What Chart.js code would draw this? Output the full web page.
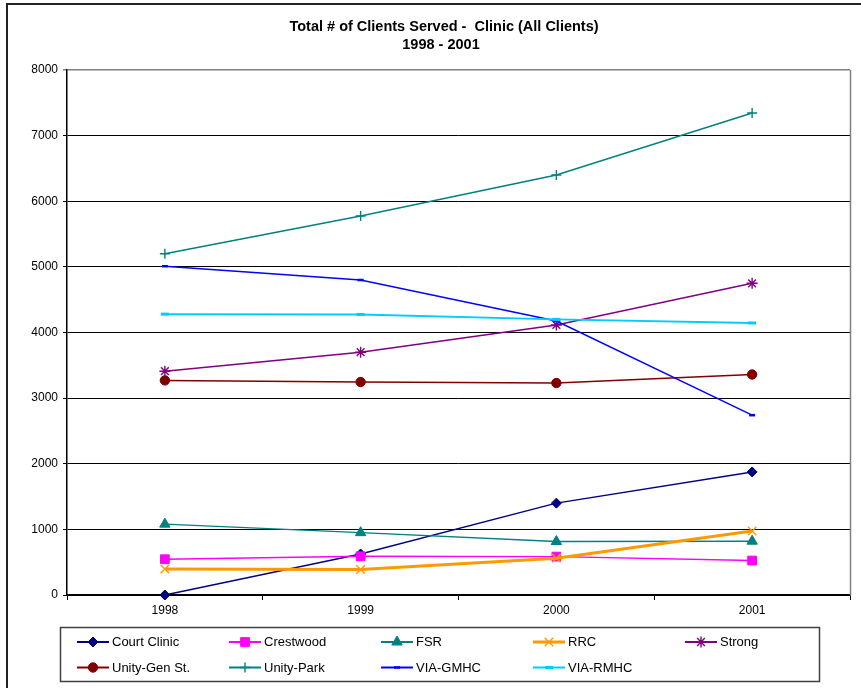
<!DOCTYPE html>
<html>
<head>
<meta charset="utf-8">
<script src="https://cdn.jsdelivr.net/npm/chart.js@4.4.1/dist/chart.umd.min.js"></script>
<style>
  html, body { margin: 0; padding: 0; background: #fff; }
  #wrap { position: relative; width: 861px; height: 688px; }
  #frame { position: absolute; left: 6px; top: 3px; width: 900px; height: 720px; border-left: 2px solid #222; border-top: 2px solid #222; box-sizing: border-box; pointer-events: none; }
  canvas { position: absolute; left: 0; top: 0; }
</style>
</head>
<body>
<div id="wrap">
  <canvas id="c" width="861" height="688"></canvas>
  <div id="frame"></div>
</div>
<script>
const titleLines = ['Total # of Clients Served -  Clinic (All Clients)', '1998 - 2001'];
const years = ['1998', '1999', '2000', '2001'];
const yTicks = [0, 1000, 2000, 3000, 4000, 5000, 6000, 7000, 8000];

const courtClinic = [0, 625, 1400, 1875];
const crestwood   = [545, 590, 585, 525];
const fsr         = [1080, 950, 815, 820];
const rrc         = [395, 390, 560, 975];
const strong      = [3410, 3700, 4115, 4750];
const unityGen    = [3270, 3245, 3230, 3360];
const unityPark   = [5200, 5775, 6400, 7345];
const viaGmhc     = [5010, 4800, 4175, 2740];
const viaRmhc     = [4280, 4275, 4200, 4145];

const seriesNames = ['Court Clinic', 'Crestwood', 'FSR', 'RRC', 'Strong', 'Unity-Gen St.', 'Unity-Park', 'VIA-GMHC', 'VIA-RMHC'];
const seriesData  = [courtClinic, crestwood, fsr, rrc, strong, unityGen, unityPark, viaGmhc, viaRmhc];
const seriesColors = ['#000080', '#FF00FF', '#008080', '#FF9900', '#800080', '#800000', '#008080', '#0000FF', '#00CCFF'];
const seriesStyles = [
  { pointStyle: 'rectRot',  radius: 5,   fill: true,  bw: 1,   lw: 1.4 },
  { pointStyle: 'rect',     radius: 6.2, fill: true,  bw: 1,   lw: 1.4 },
  { pointStyle: 'triangle', radius: 6,   fill: true,  bw: 1,   lw: 1.4 },
  { pointStyle: 'crossRot', radius: 6,   fill: false, bw: 1.4, lw: 3 },
  { pointStyle: 'star',     radius: 5.5, fill: false, bw: 1.4, lw: 1.4 },
  { pointStyle: 'circle',   radius: 4.7, fill: true,  bw: 1,   lw: 1.5 },
  { pointStyle: 'cross',    radius: 5,   fill: false, bw: 1.4, lw: 1.4 },
  { pointStyle: 'line',     radius: 3,   fill: false, bw: 2.5, lw: 1.4 },
  { pointStyle: 'line',     radius: 4,   fill: false, bw: 3,   lw: 2 }
];

const FONT = "'Liberation Sans', Arial, sans-serif";

const datasets = seriesNames.map((name, i) => ({
  label: name,
  data: seriesData[i],
  borderColor: seriesColors[i],
  backgroundColor: seriesColors[i],
  borderWidth: seriesStyles[i].lw,
  pointStyle: seriesStyles[i].pointStyle,
  pointRadius: seriesStyles[i].radius,
  pointHoverRadius: seriesStyles[i].radius,
  pointBorderWidth: seriesStyles[i].bw,
  pointBackgroundColor: seriesStyles[i].fill ? seriesColors[i] : 'rgba(0,0,0,0)',
  pointBorderColor: seriesColors[i],
  tension: 0,
  clip: false,
  order: seriesNames.length - i
}));

const decoPlugin = {
  id: 'deco',
  afterDraw(chart) {
    const ctx = chart.ctx;
    const area = chart.chartArea;
    ctx.save();
    ctx.strokeStyle = '#808080';
    ctx.lineWidth = 1.5;
    ctx.beginPath();
    ctx.moveTo(area.right + 0.5, area.top);
    ctx.lineTo(area.right + 0.5, area.bottom);
    ctx.stroke();

    ctx.fillStyle = '#000';
    ctx.font = 'bold 14.5px ' + FONT;
    ctx.textAlign = 'center';
    ctx.textBaseline = 'middle';
    ctx.fillText(titleLines[0], 444, 26.5);
    ctx.fillText(titleLines[1], 441, 44.5);

    ctx.strokeStyle = '#404040';
    ctx.lineWidth = 1.5;
    ctx.strokeRect(60.5, 627.5, 759, 54);

    ctx.font = '13px ' + FONT;
    ctx.textAlign = 'left';
    chart.data.datasets.forEach((ds, i) => {
      const col = i % 5, row = Math.floor(i / 5);
      const x0 = 77 + col * 152;
      const y = 642 + row * 25.5;
      ctx.strokeStyle = ds.borderColor;
      ctx.lineWidth = Math.max(ds.borderWidth, 2);
      ctx.beginPath();
      ctx.moveTo(x0, y);
      ctx.lineTo(x0 + 32, y);
      ctx.stroke();
      ctx.fillStyle = ds.pointBackgroundColor;
      ctx.strokeStyle = ds.pointBorderColor;
      ctx.lineWidth = ds.pointBorderWidth;
      Chart.helpers.drawPoint(ctx, {
        pointStyle: ds.pointStyle,
        radius: ds.pointRadius,
        rotation: 0,
        borderWidth: ds.pointBorderWidth
      }, x0 + 16, y);
      ctx.fillStyle = '#000';
      ctx.fillText(ds.label, x0 + 35, y + 0.5);
    });
    ctx.restore();
  }
};

new Chart(document.getElementById('c'), {
  type: 'line',
  data: { labels: years, datasets: datasets },
  plugins: [decoPlugin],
  options: {
    responsive: false,
    animation: false,
    devicePixelRatio: 1,
    layout: { padding: { left: 0, right: 11, top: 70, bottom: 63 } },
    plugins: {
      legend: { display: false },
      title: { display: false },
      tooltip: { enabled: false }
    },
    scales: {
      x: {
        type: 'category',
        offset: true,
        grid: {
          offset: true,
          drawOnChartArea: false,
          drawTicks: true,
          tickLength: 5,
          color: '#000',
          lineWidth: 1
        },
        border: { display: true, color: '#000', width: 1.5 },
        ticks: { color: '#000', font: { family: FONT, size: 12 }, padding: 3, maxRotation: 0 },
        afterFit(scale) { scale.height = 30; }
      },
      y: {
        min: 0,
        max: 8000,
        afterBuildTicks(scale) { scale.ticks = yTicks.map(v => ({ value: v })); },
        grid: {
          color: (c) => (c.tick && c.tick.value === 8000 ? '#808080' : '#000'),
          lineWidth: (c) => (c.tick && c.tick.value === 8000 ? 1.5 : 1),
          drawTicks: true,
          tickLength: 4
        },
        border: { display: true, color: '#000', width: 1.5 },
        ticks: {
          color: '#000',
          font: { family: FONT, size: 12 },
          padding: 5,
          callback: (v) => String(v)
        },
        afterFit(scale) { scale.width = 67; }
      }
    }
  }
});
</script>
</body>
</html>
